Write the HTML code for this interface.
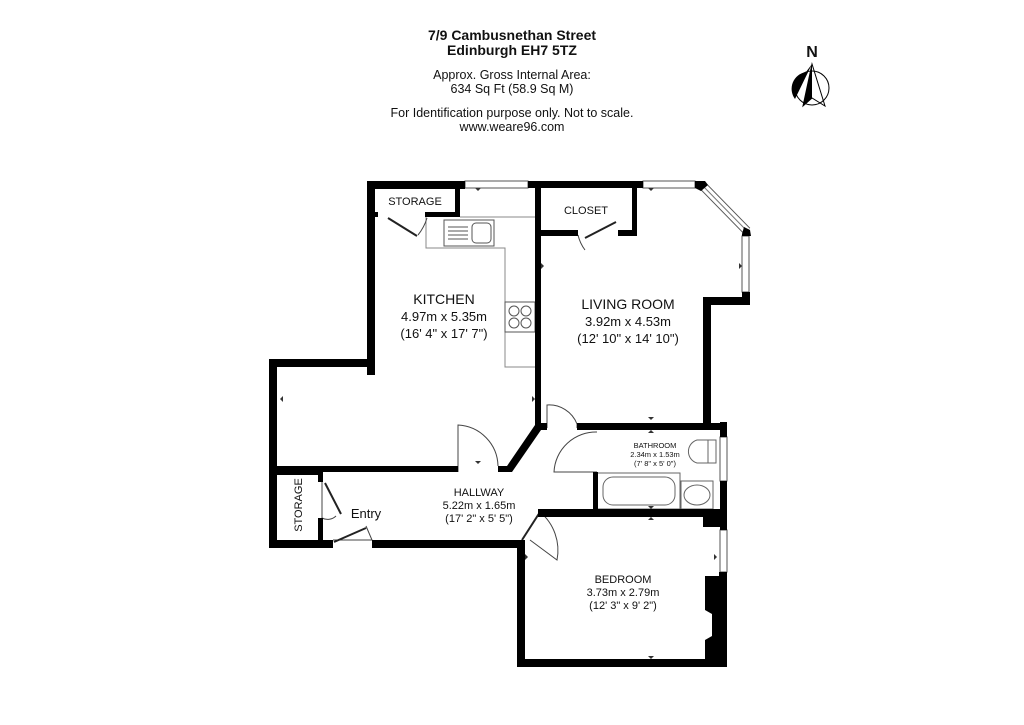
<!DOCTYPE html>
<html><head><style>
html,body{margin:0;padding:0;background:#fff;width:1024px;height:725px;overflow:hidden}
svg text{font-family:"Liberation Sans",Arial,sans-serif;fill:#111}
</style></head><body>
<svg width="1024" height="725" viewBox="0 0 1024 725" xmlns="http://www.w3.org/2000/svg">
<rect width="1024" height="725" fill="#fff"/>
<!-- header -->
<text x="512" y="40" font-size="14" font-weight="bold" text-anchor="middle">7/9 Cambusnethan Street</text>
<text x="512" y="55" font-size="14" font-weight="bold" text-anchor="middle">Edinburgh EH7 5TZ</text>
<text x="512" y="79" font-size="12.5" text-anchor="middle">Approx. Gross Internal Area:</text>
<text x="512" y="93" font-size="12.5" text-anchor="middle">634 Sq Ft (58.9 Sq M)</text>
<text x="512" y="117" font-size="12.5" text-anchor="middle">For Identification purpose only. Not to scale.</text>
<text x="512" y="131" font-size="12.5" text-anchor="middle">www.weare96.com</text>
<!-- compass -->
<text x="812" y="57" font-size="16" font-weight="bold" text-anchor="middle">N</text>
<circle cx="812" cy="88" r="17" fill="none" stroke="#000" stroke-width="1"/>
<path d="M812 64 L795 99 A17 17 0 0 1 806 72 Z" fill="#000"/>
<path d="M812 64 L803 106 L812 98 Z" fill="#000"/>
<path d="M812 64 L803 106 L812 98 L825 106 Z" fill="none" stroke="#000" stroke-width="1"/>

<!-- fixtures -->
<g fill="none" stroke="#888" stroke-width="1">
<path d="M426 217 V248 H505 V367 H535"/>
<path d="M460 217 H535"/>
</g>
<rect x="444" y="220" width="50" height="26" fill="#fff" stroke="#555"/>
<g stroke="#555" stroke-width="1"><line x1="448" y1="227" x2="468" y2="227"/><line x1="448" y1="231" x2="468" y2="231"/><line x1="448" y1="235" x2="468" y2="235"/><line x1="448" y1="239" x2="468" y2="239"/></g>
<rect x="472" y="223" width="19" height="20" rx="4" fill="#fff" stroke="#555"/>
<rect x="505" y="302" width="30" height="30" fill="#fff" stroke="#555"/>
<g fill="none" stroke="#555"><circle cx="514" cy="311" r="5"/><circle cx="526" cy="311" r="5"/><circle cx="514" cy="323" r="5"/><circle cx="526" cy="323" r="5"/></g>
<!-- bathroom fixtures -->
<rect x="597" y="473" width="83" height="36" fill="#fff" stroke="#666"/>
<rect x="603" y="477" width="72" height="28" rx="10" fill="none" stroke="#666"/>
<rect x="681" y="481" width="32" height="28" fill="none" stroke="#666"/>
<ellipse cx="697" cy="495" rx="13" ry="10" fill="none" stroke="#666"/>
<path d="M708 440 H697 A12 12 0 0 0 697 463 H716 V440 Z M708 440 V463" fill="none" stroke="#666"/>

<!-- doors -->
<g fill="none" stroke="#444" stroke-width="1">
<path d="M427 218 A50 50 0 0 1 418 235"/>
<path d="M578 235 A40 40 0 0 0 585 250"/>
<path d="M547 428 V405 A30 30 0 0 1 577 424 V428"/>
<path d="M458 472 V425 A42 42 0 0 1 498 466"/>
<path d="M597 432 A42 42 0 0 0 554 472 H597"/>
<path d="M322 482 V518 A12 12 0 0 0 336 516"/>
<path d="M333 540 H372 L366 526"/>
<path d="M540 512 A50 50 0 0 1 557 560 L530 540"/>
</g>
<g stroke="#222" stroke-width="2">
<line x1="388" y1="218" x2="417" y2="236"/>
<line x1="616" y1="222" x2="585" y2="238"/>
<line x1="325" y1="483" x2="341" y2="514"/>
<line x1="334" y1="542" x2="366" y2="528"/>
<line x1="540" y1="512" x2="522" y2="540"/>
</g>
<!-- windows -->
<g fill="#fff" stroke="#555" stroke-width="1">
<rect x="465" y="181" width="63" height="7"/>
<rect x="643" y="181" width="52" height="7"/>
<rect x="742" y="236" width="7" height="56"/>
<rect x="720" y="437" width="7" height="44"/>
<rect x="720" y="530" width="7" height="42"/>
</g>
<line x1="702" y1="185" x2="747" y2="231" stroke="#555" stroke-width="9"/>
<line x1="702" y1="185" x2="747" y2="231" stroke="#fff" stroke-width="7"/>
<line x1="702" y1="185" x2="747" y2="231" stroke="#777" stroke-width="1"/>

<!-- walls -->
<g fill="#000">
<rect x="367" y="181" width="98" height="8"/>
<rect x="528" y="181" width="115" height="7"/>
<path d="M695 181 L705 181 L708 185 L701 191 L695 188 Z"/>
<path d="M744 227 L750 230 L751 236 L742 236 L742 234 Z"/>
<rect x="742" y="292" width="8" height="13"/>
<rect x="703" y="297" width="47" height="8"/>
<rect x="703" y="297" width="8" height="130"/>
<rect x="367" y="181" width="8" height="194"/>
<rect x="269" y="359" width="106" height="8"/>
<rect x="269" y="359" width="8" height="189"/>
<rect x="269" y="540" width="64" height="8"/>
<rect x="372" y="540" width="153" height="8"/>
<rect x="517" y="540" width="8" height="127"/>
<rect x="517" y="659" width="210" height="8"/>
<rect x="719" y="572" width="8" height="95"/>
<path d="M705 576 H727 V660 H705 V640 L712 636 V614 L705 610 Z"/>
<rect x="703" y="509" width="24" height="18"/>
<rect x="720" y="481" width="7" height="49"/>
<rect x="720" y="422" width="7" height="15"/>
<rect x="455" y="188" width="5" height="29"/>
<rect x="375" y="212" width="3" height="5"/>
<rect x="425" y="212" width="35" height="5"/>
<rect x="535" y="181" width="6" height="247"/>
<rect x="541" y="230" width="37" height="6"/>
<rect x="618" y="230" width="19" height="6"/>
<rect x="632" y="188" width="5" height="48"/>
<rect x="535" y="423" width="12" height="7"/>
<rect x="577" y="423" width="150" height="7"/>
<rect x="277" y="466" width="181" height="6"/>
<rect x="498" y="466" width="9" height="6"/>
<path d="M500 472 L507 466 L535 425 L541 430 L512 472 Z"/>
<rect x="277" y="472" width="45" height="3"/>
<rect x="318" y="472" width="5" height="10"/>
<rect x="318" y="518" width="5" height="24"/>
<rect x="593" y="472" width="5" height="44"/>
<rect x="538" y="509" width="189" height="8"/>
</g>

<!-- labels -->
<text x="415" y="205" font-size="11" text-anchor="middle">STORAGE</text>
<text x="586" y="214" font-size="11" text-anchor="middle">CLOSET</text>
<text x="305" y="508" font-size="11" text-anchor="middle" transform="rotate(-90 302 508)">STORAGE</text>
<text x="444" y="304" font-size="14" text-anchor="middle">KITCHEN</text>
<text x="444" y="321" font-size="13" text-anchor="middle">4.97m x 5.35m</text>
<text x="444" y="338" font-size="13" text-anchor="middle">(16' 4" x 17' 7")</text>
<text x="628" y="309" font-size="14" text-anchor="middle">LIVING ROOM</text>
<text x="628" y="326" font-size="13" text-anchor="middle">3.92m x 4.53m</text>
<text x="628" y="343" font-size="13" text-anchor="middle">(12' 10" x 14' 10")</text>
<text x="655" y="448" font-size="7.5" text-anchor="middle">BATHROOM</text>
<text x="655" y="457" font-size="7.5" text-anchor="middle">2.34m x 1.53m</text>
<text x="655" y="466" font-size="7.5" text-anchor="middle">(7' 8" x 5' 0")</text>
<text x="479" y="496" font-size="11" text-anchor="middle">HALLWAY</text>
<text x="479" y="509" font-size="11" text-anchor="middle">5.22m x 1.65m</text>
<text x="479" y="522" font-size="11" text-anchor="middle">(17' 2" x 5' 5")</text>
<text x="366" y="518" font-size="13" text-anchor="middle">Entry</text>
<text x="623" y="583" font-size="11" text-anchor="middle">BEDROOM</text>
<text x="623" y="596" font-size="11" text-anchor="middle">3.73m x 2.79m</text>
<text x="623" y="609" font-size="11" text-anchor="middle">(12' 3" x 9' 2")</text>
<g fill="#333">
<path d="M280 399 l3 -3 v6 z"/><path d="M535 399 l-3 -3 v6 z"/>
<path d="M544 266 l-3 -3 v6 z"/><path d="M742 266 l-3 -3 v6 z"/>
<path d="M478 191 l-3 -3 h6 z"/><path d="M651 191 l-3 -3 h6 z"/>
<path d="M478 464 l-3 -3 h6 z"/><path d="M651 420 l-3 -3 h6 z"/><path d="M651 430 l-3 3 h6 z"/>
<path d="M651 509 l-3 -3 h6 z"/><path d="M651 517 l-3 3 h6 z"/><path d="M651 659 l-3 -3 h6 z"/>
<path d="M528 557 l-3 -3 v6 z"/><path d="M717 557 l-3 -3 v6 z"/>
</g>
</svg>
</body></html>
